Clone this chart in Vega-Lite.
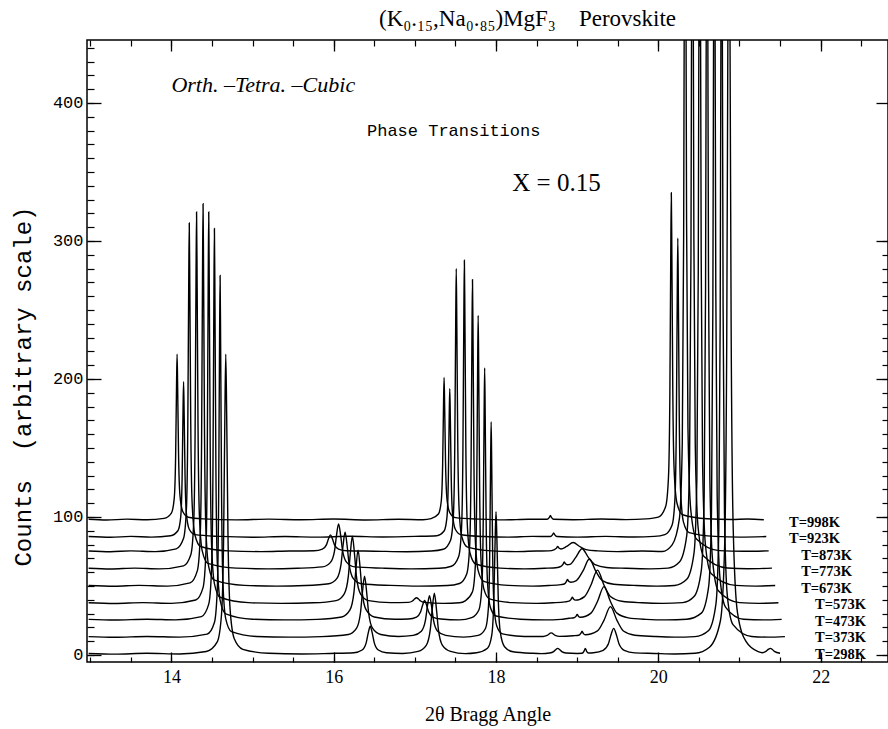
{
"$schema":"https://vega.github.io/schema/vega-lite/v6.json",
"width":801,"height":622,
"autosize":{"type":"none"},
"padding":{"left":87,"top":40,"right":0,"bottom":67},
"background":"white",
"config":{"view":{"stroke":"black","strokeWidth":1.5}},
"title":{"text":"(K₀.₁₅,Na₀.₈₅)MgF₃\u00a0\u00a0\u00a0\u00a0Perovskite","font":"Liberation Serif","fontSize":23,"fontWeight":"normal","color":"black","anchor":"middle","offset":-10,"dx":40,"baseline":"alphabetic"},
"datasets":{
"spectra":[
{"t":"998","x":12.98,"y":98.3},{"t":"998","x":13.2,"y":97.8},{"t":"998","x":13.45,"y":98.4},{"t":"998","x":13.7,"y":98.0},{"t":"998","x":13.91,"y":99.0},{"t":"998","x":14.0,"y":102.8},{"t":"998","x":14.035,"y":113.6},{"t":"998","x":14.052,"y":143.6},{"t":"998","x":14.063,"y":194},{"t":"998","x":14.07,"y":218},{"t":"998","x":14.077,"y":194},{"t":"998","x":14.088,"y":146},{"t":"998","x":14.105,"y":116},{"t":"998","x":14.14,"y":104},{"t":"998","x":14.21,"y":99.8},{"t":"998","x":14.4,"y":98.6},{"t":"998","x":14.8,"y":97.9},{"t":"998","x":15.2,"y":98.4},{"t":"998","x":15.6,"y":98.0},{"t":"998","x":16.0,"y":98.5},{"t":"998","x":16.4,"y":97.8},{"t":"998","x":16.8,"y":98.3},{"t":"998","x":17.1,"y":98.0},{"t":"998","x":17.2,"y":98.8},{"t":"998","x":17.29,"y":102.1},{"t":"998","x":17.325,"y":111.4},{"t":"998","x":17.342,"y":137},{"t":"998","x":17.353,"y":180.4},{"t":"998","x":17.36,"y":201},{"t":"998","x":17.367,"y":180.4},{"t":"998","x":17.378,"y":139.2},{"t":"998","x":17.395,"y":113.5},{"t":"998","x":17.43,"y":103.2},{"t":"998","x":17.5,"y":99.5},{"t":"998","x":17.8,"y":98.4},{"t":"998","x":18.1,"y":97.9},{"t":"998","x":18.4,"y":98.3},{"t":"998","x":18.63,"y":98.3},{"t":"998","x":18.655,"y":99.5},{"t":"998","x":18.67,"y":101},{"t":"998","x":18.685,"y":99.5},{"t":"998","x":18.71,"y":98.3},{"t":"998","x":18.95,"y":98.0},{"t":"998","x":19.3,"y":98.5},{"t":"998","x":19.6,"y":98.1},{"t":"998","x":19.85,"y":98.6},{"t":"998","x":20.0,"y":99.9},{"t":"998","x":20.09,"y":107.5},{"t":"998","x":20.125,"y":128.8},{"t":"998","x":20.142,"y":188},{"t":"998","x":20.153,"y":288},{"t":"998","x":20.16,"y":335},{"t":"998","x":20.167,"y":288},{"t":"998","x":20.178,"y":193},{"t":"998","x":20.195,"y":133.6},{"t":"998","x":20.23,"y":109.9},{"t":"998","x":20.3,"y":101.6},{"t":"998","x":20.6,"y":98.7},{"t":"998","x":20.9,"y":98.2},{"t":"998","x":21.1,"y":98.5},{"t":"998","x":21.3,"y":98.0},
{"t":"923","x":12.98,"y":85.8},{"t":"923","x":13.25,"y":85.3},{"t":"923","x":13.5,"y":85.9},{"t":"923","x":13.75,"y":85.4},{"t":"923","x":13.99,"y":86.4},{"t":"923","x":14.08,"y":90.0},{"t":"923","x":14.115,"y":100.1},{"t":"923","x":14.132,"y":128.3},{"t":"923","x":14.143,"y":175.5},{"t":"923","x":14.15,"y":198},{"t":"923","x":14.157,"y":175.5},{"t":"923","x":14.168,"y":130.5},{"t":"923","x":14.185,"y":102.4},{"t":"923","x":14.22,"y":91.1},{"t":"923","x":14.29,"y":87.2},{"t":"923","x":14.6,"y":85.9},{"t":"923","x":15.0,"y":85.3},{"t":"923","x":15.4,"y":85.8},{"t":"923","x":15.8,"y":85.4},{"t":"923","x":16.2,"y":86.0},{"t":"923","x":16.6,"y":85.5},{"t":"923","x":17.0,"y":85.9},{"t":"923","x":17.27,"y":86.4},{"t":"923","x":17.36,"y":89.8},{"t":"923","x":17.395,"y":99.5},{"t":"923","x":17.412,"y":126.4},{"t":"923","x":17.423,"y":171.5},{"t":"923","x":17.43,"y":193},{"t":"923","x":17.437,"y":171.5},{"t":"923","x":17.448,"y":128.5},{"t":"923","x":17.465,"y":101.6},{"t":"923","x":17.5,"y":90.9},{"t":"923","x":17.57,"y":87.1},{"t":"923","x":17.85,"y":85.8},{"t":"923","x":18.15,"y":85.4},{"t":"923","x":18.45,"y":85.9},{"t":"923","x":18.67,"y":85.8},{"t":"923","x":18.695,"y":87},{"t":"923","x":18.71,"y":88.5},{"t":"923","x":18.725,"y":87},{"t":"923","x":18.75,"y":85.8},{"t":"923","x":19.0,"y":85.4},{"t":"923","x":19.35,"y":85.9},{"t":"923","x":19.7,"y":85.5},{"t":"923","x":19.95,"y":85.9},{"t":"923","x":20.08,"y":87.2},{"t":"923","x":20.17,"y":94.2},{"t":"923","x":20.205,"y":113.6},{"t":"923","x":20.222,"y":167.8},{"t":"923","x":20.233,"y":258.7},{"t":"923","x":20.24,"y":302},{"t":"923","x":20.247,"y":258.7},{"t":"923","x":20.258,"y":172.1},{"t":"923","x":20.275,"y":118},{"t":"923","x":20.31,"y":96.3},{"t":"923","x":20.38,"y":88.7},{"t":"923","x":20.7,"y":85.9},{"t":"923","x":21.0,"y":85.4},{"t":"923","x":21.33,"y":85.8},
{"t":"873","x":12.98,"y":75.3},{"t":"873","x":13.25,"y":74.8},{"t":"873","x":13.5,"y":75.4},{"t":"873","x":13.8,"y":74.9},{"t":"873","x":14.06,"y":76.9},{"t":"873","x":14.15,"y":84.5},{"t":"873","x":14.185,"y":105.9},{"t":"873","x":14.202,"y":165.4},{"t":"873","x":14.213,"y":265.4},{"t":"873","x":14.22,"y":313},{"t":"873","x":14.227,"y":265.4},{"t":"873","x":14.238,"y":170.2},{"t":"873","x":14.255,"y":110.7},{"t":"873","x":14.29,"y":86.9},{"t":"873","x":14.36,"y":78.6},{"t":"873","x":14.7,"y":75.4},{"t":"873","x":15.1,"y":74.9},{"t":"873","x":15.45,"y":75.3},{"t":"873","x":15.76,"y":75.5},{"t":"873","x":15.86,"y":76.7},{"t":"873","x":15.91,"y":79.8},{"t":"873","x":15.935,"y":84},{"t":"873","x":15.96,"y":87},{"t":"873","x":15.985,"y":84},{"t":"873","x":16.01,"y":79.8},{"t":"873","x":16.06,"y":76.7},{"t":"873","x":16.16,"y":75.5},{"t":"873","x":16.5,"y":75.2},{"t":"873","x":16.9,"y":74.8},{"t":"873","x":17.2,"y":75.3},{"t":"873","x":17.35,"y":76.6},{"t":"873","x":17.44,"y":83.2},{"t":"873","x":17.475,"y":101.7},{"t":"873","x":17.492,"y":152.9},{"t":"873","x":17.503,"y":239},{"t":"873","x":17.51,"y":280},{"t":"873","x":17.517,"y":239},{"t":"873","x":17.528,"y":157},{"t":"873","x":17.545,"y":105.8},{"t":"873","x":17.58,"y":85.3},{"t":"873","x":17.65,"y":78.1},{"t":"873","x":17.95,"y":75.4},{"t":"873","x":18.25,"y":74.9},{"t":"873","x":18.5,"y":75.3},{"t":"873","x":18.65,"y":75.4},{"t":"873","x":18.72,"y":76.4},{"t":"873","x":18.745,"y":77.4},{"t":"873","x":18.76,"y":78.7},{"t":"873","x":18.775,"y":77.5},{"t":"873","x":18.8,"y":76.8},{"t":"873","x":18.87,"y":78.6},{"t":"873","x":18.95,"y":81.5},{"t":"873","x":19.03,"y":78.6},{"t":"873","x":19.11,"y":76.3},{"t":"873","x":19.25,"y":75.4},{"t":"873","x":19.5,"y":74.9},{"t":"873","x":19.8,"y":75.3},{"t":"873","x":20.05,"y":75.0},{"t":"873","x":20.17,"y":79.8},{"t":"873","x":20.26,"y":99},{"t":"873","x":20.295,"y":153},{"t":"873","x":20.312,"y":303},{"t":"873","x":20.323,"y":555},{"t":"873","x":20.33,"y":675},{"t":"873","x":20.337,"y":555},{"t":"873","x":20.348,"y":315},{"t":"873","x":20.365,"y":165},{"t":"873","x":20.4,"y":105},{"t":"873","x":20.47,"y":84},{"t":"873","x":20.75,"y":75.6},{"t":"873","x":21.05,"y":75.1},{"t":"873","x":21.36,"y":75.4},
{"t":"773","x":12.98,"y":62.8},{"t":"773","x":13.25,"y":62.3},{"t":"773","x":13.55,"y":62.9},{"t":"773","x":13.85,"y":62.4},{"t":"773","x":14.15,"y":64.6},{"t":"773","x":14.24,"y":72.8},{"t":"773","x":14.275,"y":96.1},{"t":"773","x":14.292,"y":160.7},{"t":"773","x":14.303,"y":269.3},{"t":"773","x":14.31,"y":321},{"t":"773","x":14.317,"y":269.3},{"t":"773","x":14.328,"y":165.9},{"t":"773","x":14.345,"y":101.3},{"t":"773","x":14.38,"y":75.4},{"t":"773","x":14.45,"y":66.4},{"t":"773","x":14.8,"y":62.9},{"t":"773","x":15.2,"y":62.4},{"t":"773","x":15.55,"y":62.8},{"t":"773","x":15.86,"y":63.8},{"t":"773","x":15.96,"y":67.1},{"t":"773","x":16.01,"y":75.5},{"t":"773","x":16.035,"y":86.9},{"t":"773","x":16.06,"y":95},{"t":"773","x":16.085,"y":86.9},{"t":"773","x":16.11,"y":75.5},{"t":"773","x":16.16,"y":67.1},{"t":"773","x":16.26,"y":63.8},{"t":"773","x":16.6,"y":62.9},{"t":"773","x":16.95,"y":62.4},{"t":"773","x":17.3,"y":62.8},{"t":"773","x":17.45,"y":64.3},{"t":"773","x":17.54,"y":71.4},{"t":"773","x":17.575,"y":91.6},{"t":"773","x":17.592,"y":147.4},{"t":"773","x":17.603,"y":241.3},{"t":"773","x":17.61,"y":286},{"t":"773","x":17.617,"y":241.3},{"t":"773","x":17.628,"y":151.9},{"t":"773","x":17.645,"y":96},{"t":"773","x":17.68,"y":73.7},{"t":"773","x":17.75,"y":65.9},{"t":"773","x":18.05,"y":62.9},{"t":"773","x":18.35,"y":62.4},{"t":"773","x":18.6,"y":62.8},{"t":"773","x":18.76,"y":63.4},{"t":"773","x":18.8,"y":64.2},{"t":"773","x":18.825,"y":65.6},{"t":"773","x":18.84,"y":67.4},{"t":"773","x":18.855,"y":66.1},{"t":"773","x":18.88,"y":65.4},{"t":"773","x":18.91,"y":65.6},{"t":"773","x":18.98,"y":70.5},{"t":"773","x":19.06,"y":77},{"t":"773","x":19.14,"y":70.5},{"t":"773","x":19.22,"y":65.4},{"t":"773","x":19.36,"y":63.4},{"t":"773","x":19.6,"y":62.8},{"t":"773","x":19.9,"y":62.4},{"t":"773","x":20.12,"y":62.9},{"t":"773","x":20.26,"y":67.3},{"t":"773","x":20.35,"y":86.5},{"t":"773","x":20.385,"y":140.5},{"t":"773","x":20.402,"y":290.5},{"t":"773","x":20.413,"y":542.5},{"t":"773","x":20.42,"y":662.5},{"t":"773","x":20.427,"y":542.5},{"t":"773","x":20.438,"y":302.5},{"t":"773","x":20.455,"y":152.5},{"t":"773","x":20.49,"y":92.5},{"t":"773","x":20.56,"y":71.5},{"t":"773","x":20.85,"y":63.0},{"t":"773","x":21.1,"y":62.5},{"t":"773","x":21.4,"y":62.9},
{"t":"673","x":12.98,"y":50.3},{"t":"673","x":13.3,"y":49.8},{"t":"673","x":13.6,"y":50.4},{"t":"673","x":13.95,"y":49.9},{"t":"673","x":14.23,"y":52.2},{"t":"673","x":14.32,"y":61.1},{"t":"673","x":14.355,"y":86},{"t":"673","x":14.372,"y":155.3},{"t":"673","x":14.383,"y":271.6},{"t":"673","x":14.39,"y":327},{"t":"673","x":14.397,"y":271.6},{"t":"673","x":14.408,"y":160.8},{"t":"673","x":14.425,"y":91.6},{"t":"673","x":14.46,"y":63.9},{"t":"673","x":14.53,"y":54.2},{"t":"673","x":14.9,"y":50.4},{"t":"673","x":15.3,"y":49.9},{"t":"673","x":15.65,"y":50.3},{"t":"673","x":15.94,"y":51.6},{"t":"673","x":16.04,"y":55.5},{"t":"673","x":16.09,"y":65.6},{"t":"673","x":16.115,"y":79.3},{"t":"673","x":16.14,"y":89},{"t":"673","x":16.165,"y":79.3},{"t":"673","x":16.19,"y":65.6},{"t":"673","x":16.24,"y":55.5},{"t":"673","x":16.34,"y":51.6},{"t":"673","x":16.7,"y":50.4},{"t":"673","x":17.05,"y":49.9},{"t":"673","x":17.4,"y":50.3},{"t":"673","x":17.55,"y":51.8},{"t":"673","x":17.64,"y":58.9},{"t":"673","x":17.675,"y":78.9},{"t":"673","x":17.692,"y":134.4},{"t":"673","x":17.703,"y":227.6},{"t":"673","x":17.71,"y":272},{"t":"673","x":17.717,"y":227.6},{"t":"673","x":17.728,"y":138.8},{"t":"673","x":17.745,"y":83.3},{"t":"673","x":17.78,"y":61.1},{"t":"673","x":17.85,"y":53.3},{"t":"673","x":18.15,"y":50.4},{"t":"673","x":18.45,"y":49.9},{"t":"673","x":18.65,"y":50.3},{"t":"673","x":18.8,"y":51.0},{"t":"673","x":18.84,"y":51.4},{"t":"673","x":18.865,"y":53.0},{"t":"673","x":18.88,"y":54.7},{"t":"673","x":18.895,"y":53.4},{"t":"673","x":18.92,"y":52.7},{"t":"673","x":18.99,"y":53.9},{"t":"673","x":19.07,"y":60.7},{"t":"673","x":19.15,"y":69.5},{"t":"673","x":19.23,"y":60.7},{"t":"673","x":19.31,"y":53.9},{"t":"673","x":19.45,"y":51.2},{"t":"673","x":19.7,"y":50.4},{"t":"673","x":19.98,"y":49.9},{"t":"673","x":20.2,"y":50.3},{"t":"673","x":20.35,"y":54.8},{"t":"673","x":20.44,"y":74},{"t":"673","x":20.475,"y":128},{"t":"673","x":20.492,"y":278},{"t":"673","x":20.503,"y":530},{"t":"673","x":20.51,"y":650},{"t":"673","x":20.517,"y":530},{"t":"673","x":20.528,"y":290},{"t":"673","x":20.545,"y":140},{"t":"673","x":20.58,"y":80},{"t":"673","x":20.65,"y":59},{"t":"673","x":20.95,"y":50.4},{"t":"673","x":21.2,"y":49.9},{"t":"673","x":21.44,"y":50.3},
{"t":"573","x":12.98,"y":37.8},{"t":"573","x":13.3,"y":37.3},{"t":"573","x":13.65,"y":37.9},{"t":"573","x":14.0,"y":37.4},{"t":"573","x":14.3,"y":39.8},{"t":"573","x":14.39,"y":48.8},{"t":"573","x":14.425,"y":74.4},{"t":"573","x":14.442,"y":145.2},{"t":"573","x":14.453,"y":264.3},{"t":"573","x":14.46,"y":321},{"t":"573","x":14.467,"y":264.3},{"t":"573","x":14.478,"y":150.9},{"t":"573","x":14.495,"y":80},{"t":"573","x":14.53,"y":51.7},{"t":"573","x":14.6,"y":41.8},{"t":"573","x":14.95,"y":37.9},{"t":"573","x":15.35,"y":37.4},{"t":"573","x":15.75,"y":37.8},{"t":"573","x":16.03,"y":39.4},{"t":"573","x":16.13,"y":44.3},{"t":"573","x":16.18,"y":56.9},{"t":"573","x":16.205,"y":73.9},{"t":"573","x":16.23,"y":86},{"t":"573","x":16.255,"y":73.9},{"t":"573","x":16.28,"y":56.9},{"t":"573","x":16.33,"y":44.3},{"t":"573","x":16.43,"y":39.4},{"t":"573","x":16.7,"y":37.9},{"t":"573","x":16.92,"y":38.1},{"t":"573","x":16.97,"y":39.1},{"t":"573","x":16.995,"y":40.5},{"t":"573","x":17.02,"y":41.5},{"t":"573","x":17.045,"y":40.5},{"t":"573","x":17.07,"y":39.1},{"t":"573","x":17.12,"y":38.1},{"t":"573","x":17.35,"y":37.4},{"t":"573","x":17.55,"y":37.8},{"t":"573","x":17.62,"y":39.2},{"t":"573","x":17.71,"y":45.8},{"t":"573","x":17.745,"y":64.6},{"t":"573","x":17.762,"y":116.7},{"t":"573","x":17.773,"y":204.3},{"t":"573","x":17.78,"y":246},{"t":"573","x":17.787,"y":204.3},{"t":"573","x":17.798,"y":120.9},{"t":"573","x":17.815,"y":68.8},{"t":"573","x":17.85,"y":47.9},{"t":"573","x":17.92,"y":40.6},{"t":"573","x":18.2,"y":37.9},{"t":"573","x":18.5,"y":37.4},{"t":"573","x":18.7,"y":37.8},{"t":"573","x":18.85,"y":38.5},{"t":"573","x":18.9,"y":39.0},{"t":"573","x":18.925,"y":40.3},{"t":"573","x":18.94,"y":41.9},{"t":"573","x":18.955,"y":40.5},{"t":"573","x":18.98,"y":39.7},{"t":"573","x":19.09,"y":42.3},{"t":"573","x":19.17,"y":50.7},{"t":"573","x":19.25,"y":61.5},{"t":"573","x":19.33,"y":50.7},{"t":"573","x":19.41,"y":42.3},{"t":"573","x":19.55,"y":38.9},{"t":"573","x":19.8,"y":37.8},{"t":"573","x":20.05,"y":37.4},{"t":"573","x":20.3,"y":37.9},{"t":"573","x":20.44,"y":42.3},{"t":"573","x":20.53,"y":61.5},{"t":"573","x":20.565,"y":115.5},{"t":"573","x":20.582,"y":265.5},{"t":"573","x":20.593,"y":517.5},{"t":"573","x":20.6,"y":637.5},{"t":"573","x":20.607,"y":517.5},{"t":"573","x":20.618,"y":277.5},{"t":"573","x":20.635,"y":127.5},{"t":"573","x":20.67,"y":67.5},{"t":"573","x":20.74,"y":46.5},{"t":"573","x":21.0,"y":37.9},{"t":"573","x":21.25,"y":37.4},{"t":"573","x":21.48,"y":37.8},
{"t":"473","x":12.98,"y":25.8},{"t":"473","x":13.3,"y":25.3},{"t":"473","x":13.7,"y":25.9},{"t":"473","x":14.05,"y":25.4},{"t":"473","x":14.37,"y":27.8},{"t":"473","x":14.46,"y":36.8},{"t":"473","x":14.495,"y":62.4},{"t":"473","x":14.512,"y":133.2},{"t":"473","x":14.523,"y":252.3},{"t":"473","x":14.53,"y":309},{"t":"473","x":14.537,"y":252.3},{"t":"473","x":14.548,"y":138.9},{"t":"473","x":14.565,"y":68},{"t":"473","x":14.6,"y":39.7},{"t":"473","x":14.67,"y":29.8},{"t":"473","x":15.0,"y":25.9},{"t":"473","x":15.4,"y":25.4},{"t":"473","x":15.8,"y":25.8},{"t":"473","x":16.1,"y":27.5},{"t":"473","x":16.2,"y":32.6},{"t":"473","x":16.25,"y":45.7},{"t":"473","x":16.275,"y":63.4},{"t":"473","x":16.3,"y":76},{"t":"473","x":16.325,"y":63.4},{"t":"473","x":16.35,"y":45.7},{"t":"473","x":16.4,"y":32.6},{"t":"473","x":16.5,"y":27.5},{"t":"473","x":16.75,"y":25.9},{"t":"473","x":16.92,"y":26.1},{"t":"473","x":17.02,"y":27.5},{"t":"473","x":17.07,"y":31.1},{"t":"473","x":17.095,"y":36},{"t":"473","x":17.12,"y":39.5},{"t":"473","x":17.145,"y":36},{"t":"473","x":17.17,"y":31.1},{"t":"473","x":17.22,"y":27.5},{"t":"473","x":17.32,"y":26.1},{"t":"473","x":17.55,"y":25.4},{"t":"473","x":17.7,"y":27},{"t":"473","x":17.79,"y":32.8},{"t":"473","x":17.825,"y":49.2},{"t":"473","x":17.842,"y":94.9},{"t":"473","x":17.853,"y":171.5},{"t":"473","x":17.86,"y":208},{"t":"473","x":17.867,"y":171.5},{"t":"473","x":17.878,"y":98.5},{"t":"473","x":17.895,"y":52.9},{"t":"473","x":17.93,"y":34.6},{"t":"473","x":18.0,"y":28.2},{"t":"473","x":18.3,"y":25.9},{"t":"473","x":18.6,"y":25.4},{"t":"473","x":18.8,"y":25.8},{"t":"473","x":18.9,"y":26.6},{"t":"473","x":18.96,"y":27.0},{"t":"473","x":18.985,"y":28.0},{"t":"473","x":19.0,"y":29.4},{"t":"473","x":19.015,"y":28.1},{"t":"473","x":19.04,"y":27.3},{"t":"473","x":19.17,"y":30.3},{"t":"473","x":19.25,"y":38.7},{"t":"473","x":19.33,"y":49.5},{"t":"473","x":19.41,"y":38.7},{"t":"473","x":19.49,"y":30.3},{"t":"473","x":19.63,"y":26.9},{"t":"473","x":19.85,"y":25.8},{"t":"473","x":20.1,"y":25.4},{"t":"473","x":20.35,"y":25.9},{"t":"473","x":20.53,"y":30.3},{"t":"473","x":20.62,"y":49.5},{"t":"473","x":20.655,"y":103.5},{"t":"473","x":20.672,"y":253.5},{"t":"473","x":20.683,"y":505.5},{"t":"473","x":20.69,"y":625.5},{"t":"473","x":20.697,"y":505.5},{"t":"473","x":20.708,"y":265.5},{"t":"473","x":20.725,"y":115.5},{"t":"473","x":20.76,"y":55.5},{"t":"473","x":20.83,"y":34.5},{"t":"473","x":21.05,"y":25.9},{"t":"473","x":21.3,"y":25.4},{"t":"473","x":21.52,"y":25.8},
{"t":"373","x":12.98,"y":13.3},{"t":"373","x":13.3,"y":12.8},{"t":"373","x":13.7,"y":13.4},{"t":"373","x":14.1,"y":12.9},{"t":"373","x":14.44,"y":15.1},{"t":"373","x":14.53,"y":23.5},{"t":"373","x":14.565,"y":47.1},{"t":"373","x":14.582,"y":112.6},{"t":"373","x":14.593,"y":222.6},{"t":"373","x":14.6,"y":275},{"t":"373","x":14.607,"y":222.6},{"t":"373","x":14.618,"y":117.8},{"t":"373","x":14.635,"y":52.3},{"t":"373","x":14.67,"y":26.1},{"t":"373","x":14.74,"y":16.9},{"t":"373","x":15.05,"y":13.4},{"t":"373","x":15.45,"y":12.9},{"t":"373","x":15.85,"y":13.3},{"t":"373","x":16.18,"y":14.8},{"t":"373","x":16.28,"y":19.2},{"t":"373","x":16.33,"y":30.6},{"t":"373","x":16.355,"y":46},{"t":"373","x":16.38,"y":57},{"t":"373","x":16.405,"y":46},{"t":"373","x":16.43,"y":30.6},{"t":"373","x":16.48,"y":19.2},{"t":"373","x":16.58,"y":14.8},{"t":"373","x":16.8,"y":13.4},{"t":"373","x":16.98,"y":14.2},{"t":"373","x":17.08,"y":17.2},{"t":"373","x":17.13,"y":25},{"t":"373","x":17.155,"y":35.5},{"t":"373","x":17.18,"y":43},{"t":"373","x":17.205,"y":35.5},{"t":"373","x":17.23,"y":25},{"t":"373","x":17.28,"y":17.2},{"t":"373","x":17.38,"y":14.2},{"t":"373","x":17.6,"y":12.9},{"t":"373","x":17.78,"y":14.2},{"t":"373","x":17.87,"y":19.2},{"t":"373","x":17.905,"y":33.3},{"t":"373","x":17.922,"y":72.3},{"t":"373","x":17.933,"y":137.8},{"t":"373","x":17.94,"y":169},{"t":"373","x":17.947,"y":137.8},{"t":"373","x":17.958,"y":75.4},{"t":"373","x":17.975,"y":36.4},{"t":"373","x":18.01,"y":20.8},{"t":"373","x":18.08,"y":15.3},{"t":"373","x":18.35,"y":13.4},{"t":"373","x":18.58,"y":13.4},{"t":"373","x":18.63,"y":14.2},{"t":"373","x":18.68,"y":16},{"t":"373","x":18.73,"y":14.2},{"t":"373","x":18.78,"y":13.5},{"t":"373","x":18.95,"y":13.9},{"t":"373","x":19.02,"y":14.3},{"t":"373","x":19.045,"y":15.6},{"t":"373","x":19.06,"y":17.2},{"t":"373","x":19.075,"y":15.7},{"t":"373","x":19.1,"y":14.6},{"t":"373","x":19.25,"y":17.4},{"t":"373","x":19.33,"y":25.1},{"t":"373","x":19.41,"y":35},{"t":"373","x":19.49,"y":25.1},{"t":"373","x":19.57,"y":17.4},{"t":"373","x":19.71,"y":14.3},{"t":"373","x":19.95,"y":13.4},{"t":"373","x":20.2,"y":12.9},{"t":"373","x":20.45,"y":13.3},{"t":"373","x":20.62,"y":17.8},{"t":"373","x":20.71,"y":37},{"t":"373","x":20.745,"y":91},{"t":"373","x":20.762,"y":241},{"t":"373","x":20.773,"y":493},{"t":"373","x":20.78,"y":613},{"t":"373","x":20.787,"y":493},{"t":"373","x":20.798,"y":253},{"t":"373","x":20.815,"y":103},{"t":"373","x":20.85,"y":43},{"t":"373","x":20.92,"y":22},{"t":"373","x":21.15,"y":13.4},{"t":"373","x":21.35,"y":12.9},{"t":"373","x":21.56,"y":13.3},
{"t":"298","x":12.98,"y":1.1},{"t":"298","x":13.3,"y":0.6},{"t":"298","x":13.7,"y":1.2},{"t":"298","x":14.1,"y":0.7},{"t":"298","x":14.43,"y":2.5},{"t":"298","x":14.565,"y":9.5},{"t":"298","x":14.617,"y":29},{"t":"298","x":14.643,"y":83.3},{"t":"298","x":14.659,"y":174.4},{"t":"298","x":14.67,"y":218},{"t":"298","x":14.681,"y":174.4},{"t":"298","x":14.697,"y":87.6},{"t":"298","x":14.723,"y":33.4},{"t":"298","x":14.775,"y":11.7},{"t":"298","x":14.88,"y":4.1},{"t":"298","x":15.2,"y":1.2},{"t":"298","x":15.6,"y":0.7},{"t":"298","x":15.95,"y":1.1},{"t":"298","x":16.25,"y":1.6},{"t":"298","x":16.35,"y":3.6},{"t":"298","x":16.4,"y":8.8},{"t":"298","x":16.425,"y":15.8},{"t":"298","x":16.45,"y":20.8},{"t":"298","x":16.475,"y":15.8},{"t":"298","x":16.5,"y":8.8},{"t":"298","x":16.55,"y":3.6},{"t":"298","x":16.65,"y":1.6},{"t":"298","x":16.85,"y":1.1},{"t":"298","x":17.04,"y":2.6},{"t":"298","x":17.14,"y":7},{"t":"298","x":17.19,"y":18.4},{"t":"298","x":17.215,"y":33.8},{"t":"298","x":17.24,"y":44.8},{"t":"298","x":17.265,"y":33.8},{"t":"298","x":17.29,"y":18.4},{"t":"298","x":17.34,"y":7},{"t":"298","x":17.44,"y":2.6},{"t":"298","x":17.62,"y":1.0},{"t":"298","x":17.76,"y":1.6},{"t":"298","x":17.895,"y":4.9},{"t":"298","x":17.947,"y":14.2},{"t":"298","x":17.973,"y":39.9},{"t":"298","x":17.989,"y":83.2},{"t":"298","x":18.0,"y":103.8},{"t":"298","x":18.011,"y":83.2},{"t":"298","x":18.027,"y":42},{"t":"298","x":18.053,"y":16.3},{"t":"298","x":18.105,"y":6},{"t":"298","x":18.21,"y":2.3},{"t":"298","x":18.45,"y":1.2},{"t":"298","x":18.56,"y":1.0},{"t":"298","x":18.66,"y":1.4},{"t":"298","x":18.71,"y":2.4},{"t":"298","x":18.735,"y":3.8},{"t":"298","x":18.76,"y":4.8},{"t":"298","x":18.785,"y":3.8},{"t":"298","x":18.81,"y":2.4},{"t":"298","x":18.86,"y":1.4},{"t":"298","x":19.0,"y":1.1},{"t":"298","x":19.06,"y":1.2},{"t":"298","x":19.085,"y":2.8},{"t":"298","x":19.1,"y":4.8},{"t":"298","x":19.115,"y":2.8},{"t":"298","x":19.14,"y":1.4},{"t":"298","x":19.2,"y":1.6},{"t":"298","x":19.32,"y":3.4},{"t":"298","x":19.385,"y":8.2},{"t":"298","x":19.417,"y":14.7},{"t":"298","x":19.45,"y":19.3},{"t":"298","x":19.483,"y":14.7},{"t":"298","x":19.515,"y":8.2},{"t":"298","x":19.58,"y":3.4},{"t":"298","x":19.71,"y":1.5},{"t":"298","x":19.95,"y":1.1},{"t":"298","x":20.2,"y":0.7},{"t":"298","x":20.45,"y":1.2},{"t":"298","x":20.63,"y":5.6},{"t":"298","x":20.765,"y":24.8},{"t":"298","x":20.817,"y":78.8},{"t":"298","x":20.843,"y":228.8},{"t":"298","x":20.859,"y":480.8},{"t":"298","x":20.87,"y":600.8},{"t":"298","x":20.881,"y":480.8},{"t":"298","x":20.897,"y":240.8},{"t":"298","x":20.923,"y":90.8},{"t":"298","x":20.975,"y":30.8},{"t":"298","x":21.08,"y":9.8},{"t":"298","x":21.23,"y":2.4},{"t":"298","x":21.28,"y":1.6},{"t":"298","x":21.33,"y":2.8},{"t":"298","x":21.355,"y":4.0},{"t":"298","x":21.38,"y":4.8},{"t":"298","x":21.405,"y":4.0},{"t":"298","x":21.43,"y":2.6},{"t":"298","x":21.5,"y":1.2}
],
"labels":[
{"label":"T=998K","x":21.61,"y":95.7},{"label":"T=923K","x":21.61,"y":83.7},{"label":"T=873K","x":21.76,"y":71.7},{"label":"T=773K","x":21.76,"y":59.8},{"label":"T=673K","x":21.76,"y":47.8},{"label":"T=573K","x":21.93,"y":35.9},{"label":"T=473K","x":21.93,"y":23.9},{"label":"T=373K","x":21.93,"y":12},{"label":"T=298K","x":21.93,"y":0}
]
},
"resolve":{"axis":{"x":"independent","y":"independent"}},
"layer":[
{"data":{"name":"spectra"},"mark":{"type":"line","clip":true,"interpolate":"monotone","stroke":"black","strokeWidth":1.4},
"encoding":{
"x":{"field":"x","type":"quantitative","scale":{"domain":[12.96,22.83],"nice":false,"zero":false},"axis":{"orient":"bottom","values":[14,16,18,20,22],"ticks":false,"domain":false,"grid":false,"labelFont":"Liberation Serif","labelFontSize":18,"labelColor":"black","labelPadding":6,"labelFlush":false,"title":"2θ Bragg Angle","titleFont":"Liberation Serif","titleFontSize":20,"titleFontWeight":"normal","titleColor":"black","titlePadding":18}},
"y":{"field":"y","type":"quantitative","scale":{"domain":[-5.1,445.6],"nice":false,"zero":false},"axis":{"orient":"left","values":[0,100,200,300,400],"ticks":false,"domain":false,"grid":false,"labelFont":"Liberation Mono","labelFontSize":17,"labelColor":"black","labelPadding":4,"labelFlush":false,"title":"Counts\u00a0\u00a0(arbitrary scale)","titleFont":"Liberation Mono","titleFontSize":24,"titleFontWeight":"normal","titleColor":"black","titlePadding":17,"titleY":346}},
"detail":{"field":"t","type":"nominal"}}},
{"data":{"name":"labels"},"mark":{"type":"point","opacity":0},
"encoding":{
"x":{"field":"x","type":"quantitative","scale":{"domain":[12.96,22.83],"nice":false,"zero":false},"axis":{"orient":"bottom","values":[14,16,18,20,22],"labels":false,"domain":false,"grid":false,"ticks":true,"tickSize":-10,"tickColor":"black","tickWidth":1.3,"title":null}},
"y":{"field":"y","type":"quantitative","scale":{"domain":[-5.1,445.6],"nice":false,"zero":false},"axis":{"orient":"left","values":[0,100,200,300,400],"labels":false,"domain":false,"grid":false,"ticks":true,"tickSize":-14,"tickColor":"black","tickWidth":1.3,"title":null}}}},
{"data":{"name":"labels"},"mark":{"type":"point","opacity":0},
"encoding":{
"x":{"field":"x","type":"quantitative","scale":{"domain":[12.96,22.83],"nice":false,"zero":false},"axis":{"orient":"bottom","values":[13,13.5,14,14.5,15,15.5,16,16.5,17,17.5,18,18.5,19,19.5,20,20.5,21,21.5,22,22.5],"labels":false,"domain":false,"grid":false,"ticks":true,"tickSize":-5,"tickColor":"black","tickWidth":1.2,"title":null}},
"y":{"field":"y","type":"quantitative","scale":{"domain":[-5.1,445.6],"nice":false,"zero":false},"axis":{"orient":"left","values":[0,10,20,30,40,50,60,70,80,90,100,110,120,130,140,150,160,170,180,190,200,210,220,230,240,250,260,270,280,290,300,310,320,330,340,350,360,370,380,390,400,410,420,430,440],"labels":false,"domain":false,"grid":false,"ticks":true,"tickSize":-7,"tickColor":"black","tickWidth":1.2,"title":null}}}},
{"data":{"name":"labels"},"mark":{"type":"point","opacity":0},
"encoding":{
"x":{"field":"x","type":"quantitative","scale":{"domain":[12.96,22.83],"nice":false,"zero":false},"axis":{"orient":"top","values":[14,16,18,20,22],"labels":false,"domain":false,"grid":false,"ticks":true,"tickSize":-11,"tickColor":"black","tickWidth":1.3,"title":null}},
"y":{"field":"y","type":"quantitative","scale":{"domain":[-5.1,445.6],"nice":false,"zero":false},"axis":{"orient":"right","values":[0,100,200,300,400],"labels":false,"domain":false,"grid":false,"ticks":true,"tickSize":-12,"tickColor":"black","tickWidth":1.3,"title":null}}}},
{"data":{"name":"labels"},"mark":{"type":"point","opacity":0},
"encoding":{
"x":{"field":"x","type":"quantitative","scale":{"domain":[12.96,22.83],"nice":false,"zero":false},"axis":{"orient":"top","values":[13,13.5,14,14.5,15,15.5,16,16.5,17,17.5,18,18.5,19,19.5,20,20.5,21,21.5,22,22.5],"labels":false,"domain":false,"grid":false,"ticks":true,"tickSize":-6,"tickColor":"black","tickWidth":1.2,"title":null}},
"y":{"field":"y","type":"quantitative","scale":{"domain":[-5.1,445.6],"nice":false,"zero":false},"axis":{"orient":"right","values":[0,10,20,30,40,50,60,70,80,90,100,110,120,130,140,150,160,170,180,190,200,210,220,230,240,250,260,270,280,290,300],"labels":false,"domain":false,"grid":false,"ticks":true,"tickSize":-6,"tickColor":"black","tickWidth":1.2,"title":null}}}},
{"data":{"name":"labels"},"mark":{"type":"text","align":"left","baseline":"middle","font":"Liberation Serif","fontSize":14.5,"fontWeight":"bold","color":"black"},
"encoding":{
"x":{"field":"x","type":"quantitative","scale":{"domain":[12.96,22.83],"nice":false,"zero":false},"axis":null},
"y":{"field":"y","type":"quantitative","scale":{"domain":[-5.1,445.6],"nice":false,"zero":false},"axis":null},
"text":{"field":"label","type":"nominal"}}},
{"data":{"values":[{"note":"Orth. –Tetra. –Cubic","x":14.0,"y":413}]},"mark":{"type":"text","align":"left","baseline":"middle","font":"Liberation Serif","fontStyle":"italic","fontSize":22,"color":"black"},
"encoding":{
"x":{"field":"x","type":"quantitative","scale":{"domain":[12.96,22.83],"nice":false,"zero":false},"axis":null},
"y":{"field":"y","type":"quantitative","scale":{"domain":[-5.1,445.6],"nice":false,"zero":false},"axis":null},
"text":{"field":"note","type":"nominal"}}},
{"data":{"values":[{"note":"Phase Transitions","x":16.41,"y":380}]},"mark":{"type":"text","align":"left","baseline":"middle","font":"Liberation Mono","fontSize":17,"color":"black"},
"encoding":{
"x":{"field":"x","type":"quantitative","scale":{"domain":[12.96,22.83],"nice":false,"zero":false},"axis":null},
"y":{"field":"y","type":"quantitative","scale":{"domain":[-5.1,445.6],"nice":false,"zero":false},"axis":null},
"text":{"field":"note","type":"nominal"}}},
{"data":{"values":[{"note":"X = 0.15","x":18.2,"y":342}]},"mark":{"type":"text","align":"left","baseline":"middle","font":"Liberation Serif","fontSize":25,"color":"black"},
"encoding":{
"x":{"field":"x","type":"quantitative","scale":{"domain":[12.96,22.83],"nice":false,"zero":false},"axis":null},
"y":{"field":"y","type":"quantitative","scale":{"domain":[-5.1,445.6],"nice":false,"zero":false},"axis":null},
"text":{"field":"note","type":"nominal"}}}
]
}
